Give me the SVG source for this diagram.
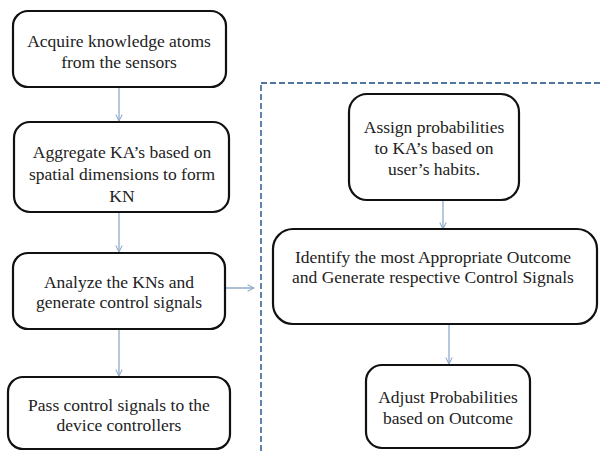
<svg xmlns="http://www.w3.org/2000/svg" width="603" height="451" viewBox="0 0 603 451">
<defs>
<marker id="ah" viewBox="0 0 10 10" refX="9" refY="5" markerWidth="8" markerHeight="8" markerUnits="userSpaceOnUse" orient="auto">
<path d="M1,1 L9,5 L1,9" fill="none" stroke="#8fabc9" stroke-width="1.3"/>
</marker>
<style>
.box{fill:#fff;stroke:#111;stroke-width:2.2}
.t{font-family:'Liberation Serif','Times New Roman','DejaVu Serif',serif;font-size:17.5px;fill:#222;text-anchor:middle}
.c{stroke:#8fabc9;stroke-width:1.3;fill:none}
</style>
</defs>
<rect width="603" height="451" fill="#fff"/>
<rect id="region" x="261" y="83" width="360" height="400" fill="none" stroke="#4f76a0" stroke-width="1.8" stroke-dasharray="6,3"/>
<g id="connectors">
<line class="c" x1="119" y1="88" x2="119" y2="121" marker-end="url(#ah)"/>
<line class="c" x1="119" y1="212" x2="119" y2="252" marker-end="url(#ah)"/>
<line class="c" x1="119" y1="329" x2="119" y2="376" marker-end="url(#ah)"/>
<line class="c" x1="220" y1="288" x2="254" y2="288" marker-end="url(#ah)"/>
<line class="c" x1="443" y1="200" x2="443" y2="229" marker-end="url(#ah)"/>
<line class="c" x1="449" y1="324" x2="449" y2="364" marker-end="url(#ah)"/>
</g>
<g font-family="Liberation Serif, Times New Roman, serif">
<g id="n1"><rect class="box" x="13" y="11" width="213" height="76" rx="15"/>
<text class="t" x="119" y="47">Acquire knowledge atoms</text><text class="t" x="119" y="68">from the sensors</text></g>
<g id="n2"><rect class="box" x="14" y="122" width="215" height="90" rx="16"/>
<text class="t" x="122" y="158">Aggregate KA’s based on</text><text class="t" x="122" y="180">spatial dimensions to form</text><text class="t" x="122" y="202">KN</text></g>
<g id="n3"><rect class="box" x="13" y="253" width="212" height="76" rx="15"/>
<text class="t" x="119" y="288">Analyze the KNs and</text><text class="t" x="119" y="308">generate control signals</text></g>
<g id="n4"><rect class="box" x="8" y="377" width="222" height="72" rx="15"/>
<text class="t" x="119" y="411">Pass control signals to the</text><text class="t" x="119" y="431">device controllers</text></g>
<g id="n5"><rect class="box" x="349" y="94" width="170" height="106" rx="18"/>
<text class="t" x="434" y="133">Assign probabilities</text><text class="t" x="434" y="154">to KA’s based on</text><text class="t" x="434" y="175">user’s habits.</text></g>
<g id="n6"><rect class="box" x="273" y="229" width="324" height="95" rx="20"/>
<text class="t" x="433" y="263">Identify the most Appropriate Outcome</text><text class="t" x="433" y="283">and Generate respective Control Signals</text></g>
<g id="n7"><rect class="box" x="366" y="365" width="164" height="83" rx="16"/>
<text class="t" x="448" y="403">Adjust Probabilities</text><text class="t" x="448" y="424">based on Outcome</text></g>
</g>
</svg>
